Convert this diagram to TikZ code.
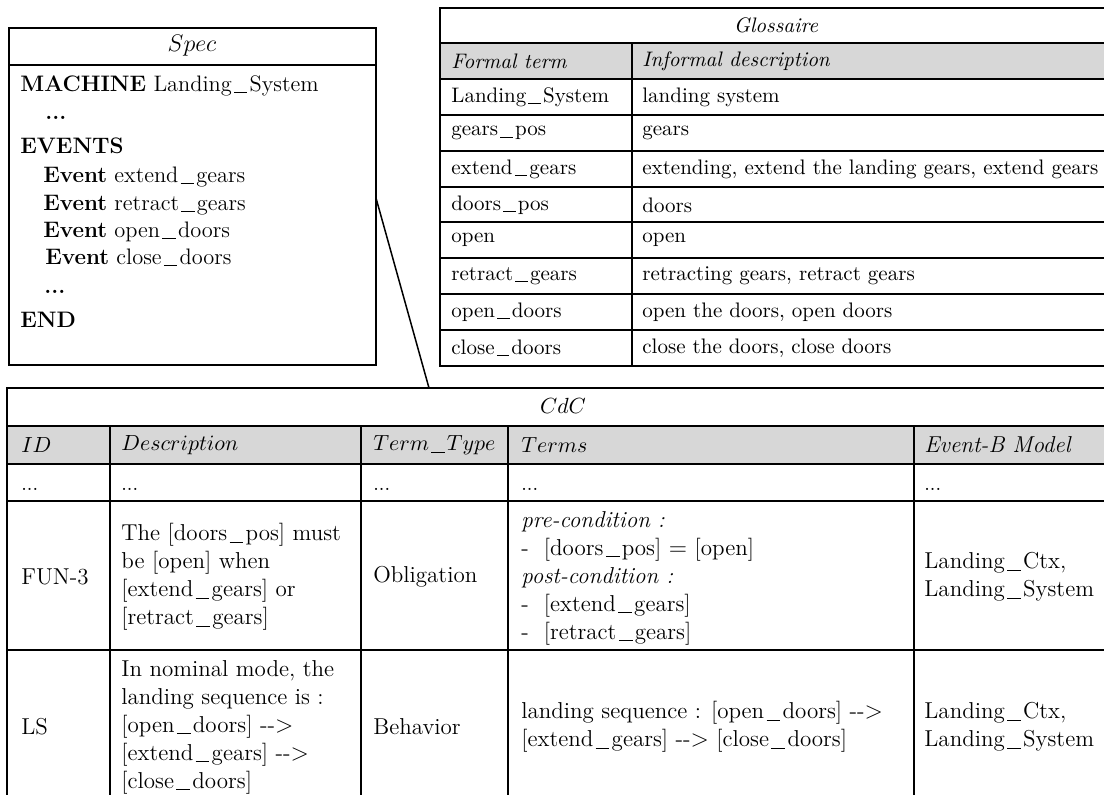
\documentclass[tikz,border=0pt]{standalone}
\newcommand{\us}{\kern0.1em\rule[-0.1em]{0.6em}{0.045em}\kern0.1em}
\begin{document}
\begin{tikzpicture}[x=0.5pt,y=-0.5pt,
  frame/.style={draw=black,line width=1pt},
  thin/.style={draw=black,line width=0.85pt},
  hdrfill/.style={fill=hdrgray},
  spectxt/.style={inner sep=0pt,anchor=base west,font=\fontsize{11.2}{13.75}\selectfont},
  glotxt/.style={inner sep=0pt,anchor=west,font=\fontsize{10.5}{12.5}\selectfont},
  cdctxt/.style={inner sep=0pt,anchor=west,align=left,font=\fontsize{11.5}{14}\selectfont},
  cdchdr/.style={inner sep=0pt,anchor=west,font=\fontsize{11}{13}\selectfont},
  dots/.style={inner sep=0pt,anchor=base west,font=\fontsize{10}{12}\selectfont}]
\definecolor{hdrgray}{RGB}{215,215,215}
\useasboundingbox (0,0) rectangle (1104,794);
% ---------------- Spec ----------------
\draw[frame] (9,28) rectangle (376,365);
\draw[frame] (9,65) -- (376,65);
\node[inner sep=0pt,font=\fontsize{11.5}{13}\selectfont] (spectitle) at (192,46) {$Spec$};
\node[spectxt] (s1) at (20,91) {\textbf{MACHINE} Landing\us System};
\node[spectxt] (s2) at (45,119) {\textbf{...}};
\node[spectxt] (s3) at (20,153) {\textbf{EVENTS}};
\node[spectxt] (s4) at (43,182) {\textbf{Event} extend\us gears};
\node[spectxt] (s5) at (43,210) {\textbf{Event} retract\us gears};
\node[spectxt] (s6) at (43,237) {\textbf{Event} open\us doors};
\node[spectxt] (s7) at (45,264) {\textbf{Event} close\us doors};
\node[spectxt] (s8) at (44,293) {\textbf{...}};
\node[spectxt] (s9) at (20,327) {\textbf{END}};
% ---------------- Glossaire ----------------
\fill[hdrfill] (440,43) rectangle (1112,79);
\draw[frame] (440,8) rectangle (1112,366);
\foreach \yy in {43,79,115,151,187,222,258,294,330}{\draw[thin] (440,\yy) -- (1112,\yy);}
\draw[thin] (632,43) -- (632,366);
\node[inner sep=0pt,font=\fontsize{10.5}{12.5}\selectfont] (glotitle) at (776,25) {\textit{Glossaire}};
\node[glotxt] (gh1) at (451,61) {\textit{Formal term}};
\node[glotxt] (gh2) at (642,61) {\textit{Informal description}};
\node[glotxt] (ga1) at (451,97) {Landing\us System};
\node[glotxt] (ga2) at (642,97) {landing system};
\node[glotxt] (gb1) at (451,133) {gears\us pos};
\node[glotxt] (gb2) at (642,133) {gears};
\node[glotxt] (gc1) at (451,169) {extend\us gears};
\node[glotxt] (gc2) at (642,169) {extending, extend the landing gears, extend gears};
\node[glotxt] (gd1) at (451,205) {doors\us pos};
\node[glotxt] (gd2) at (642,205) {doors};
\node[glotxt] (ge1) at (451,240) {open};
\node[glotxt] (ge2) at (642,240) {open};
\node[glotxt] (gf1) at (451,276) {retract\us gears};
\node[glotxt] (gf2) at (642,276) {retracting gears, retract gears};
\node[glotxt] (gg1) at (451,312) {open\us doors};
\node[glotxt] (gg2) at (642,312) {open the doors, open doors};
\node[glotxt] (gi1) at (451,348) {close\us doors};
\node[glotxt] (gi2) at (642,348) {close the doors, close doors};
% ---------------- CdC ----------------
\fill[hdrfill] (7,426) rectangle (1119,464);
\draw[frame] (7,820) -- (7,388) -- (1119,388) -- (1119,820);
\foreach \yy in {426,464,501,650}{\draw[thin] (7,\yy) -- (1119,\yy);}
\foreach \xx in {110,361,508,914}{\draw[thin] (\xx,426) -- (\xx,820);}
\node[inner sep=0pt,font=\fontsize{11}{13}\selectfont] (cdctitle) at (563,406) {$CdC$};
\node[cdchdr] (h1) at (21,445) {$ID$};
\node[cdchdr] (h2) at (121,445) {$Description$};
\node[cdchdr] (h3) at (373,445) {$Term$\us$Type$};
\node[cdchdr] (h4) at (521,445) {$Terms$};
\node[cdctxt] (h5) at (924,445) {\textit{Event-B Model}};
\node[dots] (d1) at (21,490) {...};
\node[dots] (d2) at (121,490) {...};
\node[dots] (d3) at (373,490) {...};
\node[dots] (d4) at (521,490) {...};
\node[dots] (d5) at (924,490) {...};
\node[cdctxt] (f1) at (21,577) {FUN-3};
\node[cdctxt] (f2) at (121,577) {The [doors\us pos] must\\be [open] when\\[0pt][extend\us gears] or\\[0pt][retract\us gears]};
\node[cdctxt] (f3) at (373,577) {Obligation};
\node[cdctxt] (f4) at (521,578) {\textit{pre-condition :}\\-\ \ [doors\us pos] $=$ [open]\\\textit{post-condition :}\\-\ \ [extend\us gears]\\-\ \ [retract\us gears]};
\node[cdctxt] (f5) at (924,577) {Landing\us Ctx,\\Landing\us System};
\node[cdctxt] (l1) at (21,727) {LS};
\node[cdctxt] (l2) at (121,727) {In nominal mode, the\\landing sequence is :\\[0pt][open\us doors] -{}-$>$\\[0pt][extend\us gears] -{}-$>$\\[0pt][close\us doors]};
\node[cdctxt] (l3) at (373,727) {Behavior};
\node[cdctxt] (l4) at (521,727) {landing sequence : [open\us doors] -{}-$>$\\[0pt][extend\us gears] -{}-$>$ [close\us doors]};
\node[cdctxt] (l5) at (924,727) {Landing\us Ctx,\\Landing\us System};
% ---------------- connector ----------------
\coordinate (specpt) at (376,198);
\coordinate (cdcpt) at (429,388);
\draw[line width=0.75pt] (specpt) -- (cdcpt);
\end{tikzpicture}
\end{document}
